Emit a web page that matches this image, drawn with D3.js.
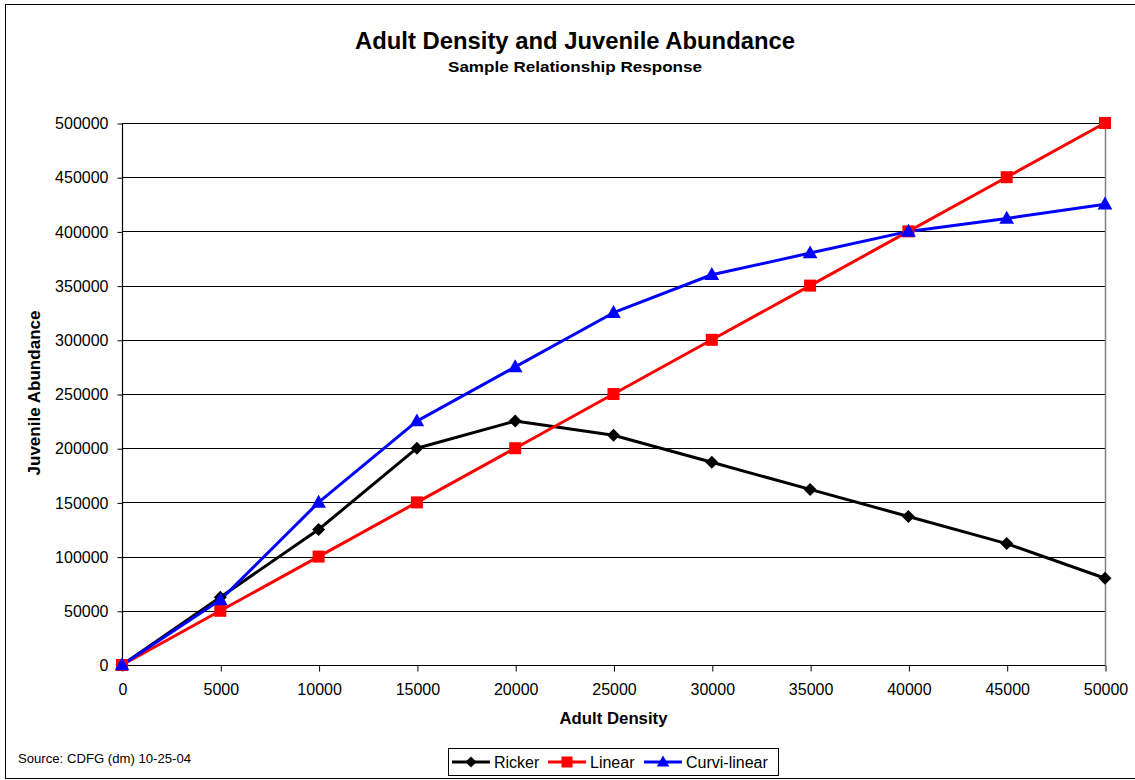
<!DOCTYPE html>
<html><head><meta charset="utf-8">
<script src="https://cdn.jsdelivr.net/npm/d3@7"></script>
<style>body{margin:0;background:#fff}svg{font-family:"Liberation Sans",Arial,sans-serif}</style>
</head><body><svg id="c" width="1135" height="780"></svg>
<script>
const xValues = [0,5000,10000,15000,20000,25000,30000,35000,40000,45000,50000];
const ricker = [0,62500,125000,200000,225000,212000,187000,162000,137000,112000,80000];
const linear = [0,50000,100000,150000,200000,250000,300000,350000,400000,450000,500000];
const curvi = [0,60000,150000,225000,275000,325000,360000,380000,400000,412000,425000];
const yTicks = [0,50000,100000,150000,200000,250000,300000,350000,400000,450000,500000];
const xTicks = xValues;
const seriesNames = ["Ricker","Linear","Curvi-linear"];
const seriesColors = ["#000000","#ff0000","#0000ff"];
const seriesShapes = ["diamond","square","triangle"];

const svg = d3.select("#c");
const L=122, R=1105, T=123, B=665;
const x = d3.scaleLinear().domain([0,50000]).range([L,R]);
const y = d3.scaleLinear().domain([0,500000]).range([B,T]);

svg.append("rect").attr("x",5.5).attr("y",4.5).attr("width",1140).attr("height",774).attr("fill","#fff").attr("stroke","#000").attr("stroke-width",1);

// gridlines
svg.append("g").selectAll("line").data(yTicks.filter(d=>d>0)).join("line")
  .attr("x1",L).attr("x2",R).attr("y1",d=>Math.round(y(d))+0.5).attr("y2",d=>Math.round(y(d))+0.5)
  .attr("stroke","#000").attr("stroke-width",1);
svg.append("line").attr("x1",R+0.5).attr("x2",R+0.5).attr("y1",T).attr("y2",B).attr("stroke","#808080").attr("stroke-width",1.5);

// axes
const yAxis = d3.axisLeft(y).tickValues(yTicks).tickSize(5).tickPadding(9).tickFormat(d3.format("d"));
const gy = svg.append("g").attr("transform",`translate(${L+0.5},0.5)`).call(yAxis);
const xAxis = d3.axisBottom(x).tickValues(xTicks).tickSize(6).tickPadding(12).tickFormat(d3.format("d"));
const gx = svg.append("g").attr("transform",`translate(0.5,${B+0.5})`).call(xAxis);
[gy,gx].forEach(g=>{
  g.select(".domain").attr("stroke","#000").attr("stroke-width",1.2);
  g.selectAll(".tick line").attr("stroke","#000");
  g.selectAll(".tick text").attr("font-size","16px").attr("fill","#000").attr("font-family","Liberation Sans, Arial, sans-serif");
});
gx.select(".domain").attr("d",`M${L},0H${R}`);
gy.select(".domain").attr("d",`M0,${T}V${B}`);

// markers
function marker(sel, shape, color, size){
  if(shape==="diamond") sel.append("path").attr("d",`M0,${-size}L${size},0L0,${size}L${-size},0Z`).attr("fill",color);
  else if(shape==="square") sel.append("rect").attr("x",-size).attr("y",-size).attr("width",2*size).attr("height",2*size).attr("fill",color);
  else sel.append("path").attr("d",`M0,${-size*1.1}L${size*1.05},${size*0.75}L${-size*1.05},${size*0.75}Z`).attr("fill",color);
}

const seriesData = [ricker, linear, curvi];
const line = d3.line().x((d,i)=>x(xValues[i])).y(d=>y(d));
seriesData.forEach((s,k)=>{
  svg.append("path").datum(s).attr("d",line).attr("fill","none").attr("stroke",seriesColors[k]).attr("stroke-width",3).attr("stroke-linejoin","round");
});
seriesData.forEach((s,k)=>{
  svg.append("g").selectAll("g").data(s).join("g")
    .attr("transform",(d,i)=>`translate(${x(xValues[i])},${y(d)})`)
    .each(function(){ marker(d3.select(this), seriesShapes[k], seriesColors[k], k===0?6.5:(k===1?6:7)); });
});

// titles
svg.append("text").attr("x",575).attr("y",49).attr("text-anchor","middle").attr("font-size","23px").attr("font-weight","bold")
  .attr("textLength",440).attr("lengthAdjust","spacingAndGlyphs").text("Adult Density and Juvenile Abundance");
svg.append("text").attr("x",575).attr("y",72).attr("text-anchor","middle").attr("font-size","15.5px").attr("font-weight","bold")
  .attr("textLength",254).attr("lengthAdjust","spacingAndGlyphs").text("Sample Relationship Response");
svg.append("text").attr("x",(L+R)/2).attr("y",724).attr("text-anchor","middle").attr("font-size","16.5px").attr("font-weight","bold")
  .attr("textLength",108).attr("lengthAdjust","spacingAndGlyphs").text("Adult Density");
svg.append("text").attr("transform",`translate(40,${393}) rotate(-90)`).attr("text-anchor","middle").attr("font-size","17px").attr("font-weight","bold")
  .attr("textLength",165).attr("lengthAdjust","spacingAndGlyphs").text("Juvenile Abundance");
svg.append("text").attr("x",18).attr("y",763).attr("font-size","13px")
  .attr("textLength",173).attr("lengthAdjust","spacingAndGlyphs").text("Source: CDFG (dm) 10-25-04");

// legend
const lg = svg.append("g");
lg.append("rect").attr("x",448.5).attr("y",748.5).attr("width",330).attr("height",27).attr("fill","#fff").attr("stroke","#000").attr("stroke-width",1);
const legX = [452,548,644];
seriesNames.forEach((n,k)=>{
  const g = lg.append("g").attr("transform",`translate(${legX[k]},762)`);
  g.append("line").attr("x1",0).attr("x2",38).attr("stroke",seriesColors[k]).attr("stroke-width",3);
  const m = g.append("g").attr("transform","translate(19,0)");
  marker(m, seriesShapes[k], seriesColors[k], k===0?5.5:(k===1?5.5:6));
  g.append("text").attr("x",42).attr("y",6).attr("font-size","16px").text(n);
});
</script></body></html>
